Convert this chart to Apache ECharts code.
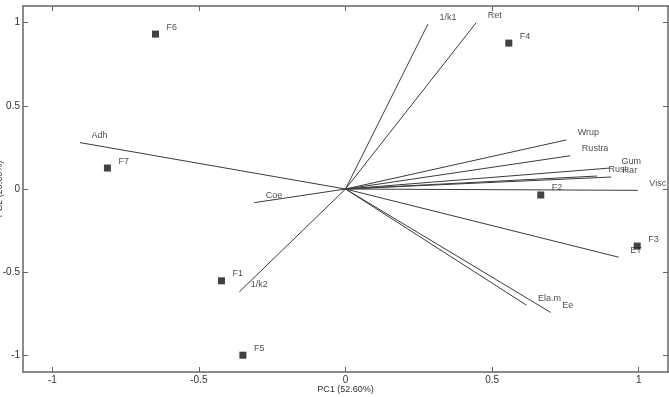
<!DOCTYPE html>
<html>
<head>
<meta charset="utf-8">
<script src="https://cdn.jsdelivr.net/npm/echarts@6/dist/echarts.min.js"></script>
<style>html,body{margin:0;padding:0;background:#fff}#c{width:669px;height:397px}</style>
</head>
<body>
<div id="c"></div>
<script>
// Scores (objects)
var scoreNames = ['F1','F2','F3','F4','F5','F6','F7'];
var scoreX = [-0.423, 0.666, 0.995, 0.557, -0.35, -0.648, -0.812];
var scoreY = [-0.552, -0.036, -0.343, 0.877, -0.999, 0.931, 0.126];

// Loadings (variables)
var loadNames = ['1/k1','Ret','Wrup','Rustra','Gum','Rust','Har','Visc','ET','Ela.m','Ee','Coe','Adh','1/k2'];
var loadX = [0.281, 0.446, 0.753, 0.767, 0.902, 0.858, 0.906, 0.997, 0.932, 0.617, 0.700, -0.311, -0.906, -0.362];
var loadY = [0.991, 1.000, 0.295, 0.200, 0.126, 0.078, 0.072, -0.008, -0.410, -0.698, -0.742, -0.082, 0.279, -0.618];

var tickValues = [-1, -0.5, 0, 0.5, 1];
var xName = 'PC1 (52.60%)';
var yName = 'PC2 (20.60%)';

var FONT = 'Liberation Sans, Arial, sans-serif';
var axisColor = '#666';

function mkAxis(pos, showLabel, name) {
  var isX = (pos === 'bottom' || pos === 'top');
  return {
    type: 'value', position: pos, min: -1.1, max: 1.1,
    name: name || '', nameLocation: 'middle',
    nameGap: isX ? 13 : 19,
    nameMoveOverlap: false,
    nameTextStyle: {fontFamily: FONT, fontSize: 9, color: '#333'},
    axisLine: {show: true, onZero: false, lineStyle: {color: axisColor, width: 1.5}},
    axisTick: {show: true, inside: true, length: 5, customValues: tickValues, lineStyle: {color: axisColor, width: 1}},
    axisLabel: {show: showLabel, customValues: tickValues, margin: 3, fontFamily: FONT, fontSize: 10, color: '#333'},
    splitLine: {show: false}
  };
}

var lineData = loadNames.map(function(n, i){ return {coords: [[0,0],[loadX[i], loadY[i]]]}; });
var loadPts = loadNames.map(function(n, i){ return {name: n, value: [loadX[i], loadY[i]]}; });
var scorePts = scoreNames.map(function(n, i){ return {name: n, value: [scoreX[i], scoreY[i]]}; });

var chart = echarts.init(document.getElementById('c'), null, {renderer: 'canvas'});
chart.setOption({
  animation: false,
  grid: {left: 23, right: 1, top: 6, bottom: 25, containLabel: false, outerBoundsMode: 'none'},
  xAxis: [mkAxis('bottom', true, xName), mkAxis('top', false)],
  yAxis: [mkAxis('left', true, yName), mkAxis('right', false)],
  series: [
    {
      type: 'lines', coordinateSystem: 'cartesian2d', xAxisIndex: 0, yAxisIndex: 0,
      data: lineData, silent: true,
      lineStyle: {color: '#3a3a3a', width: 1, opacity: 1}
    },
    {
      type: 'scatter', xAxisIndex: 0, yAxisIndex: 0, data: loadPts,
      symbolSize: 1, itemStyle: {color: 'rgba(0,0,0,0)'},
      label: {show: true, position: 'right', distance: 11, offset: [0, -7], formatter: '{b}',
        fontFamily: FONT, fontSize: 9, color: '#222'}
    },
    {
      type: 'scatter', xAxisIndex: 0, yAxisIndex: 0, data: scorePts,
      symbol: 'rect', symbolSize: 7, itemStyle: {color: '#111'},
      label: {show: true, position: 'right', distance: 7.5, offset: [0, -7], formatter: '{b}',
        fontFamily: FONT, fontSize: 9, color: '#222'}
    }
  ]
});
</script>
</body>
</html>
